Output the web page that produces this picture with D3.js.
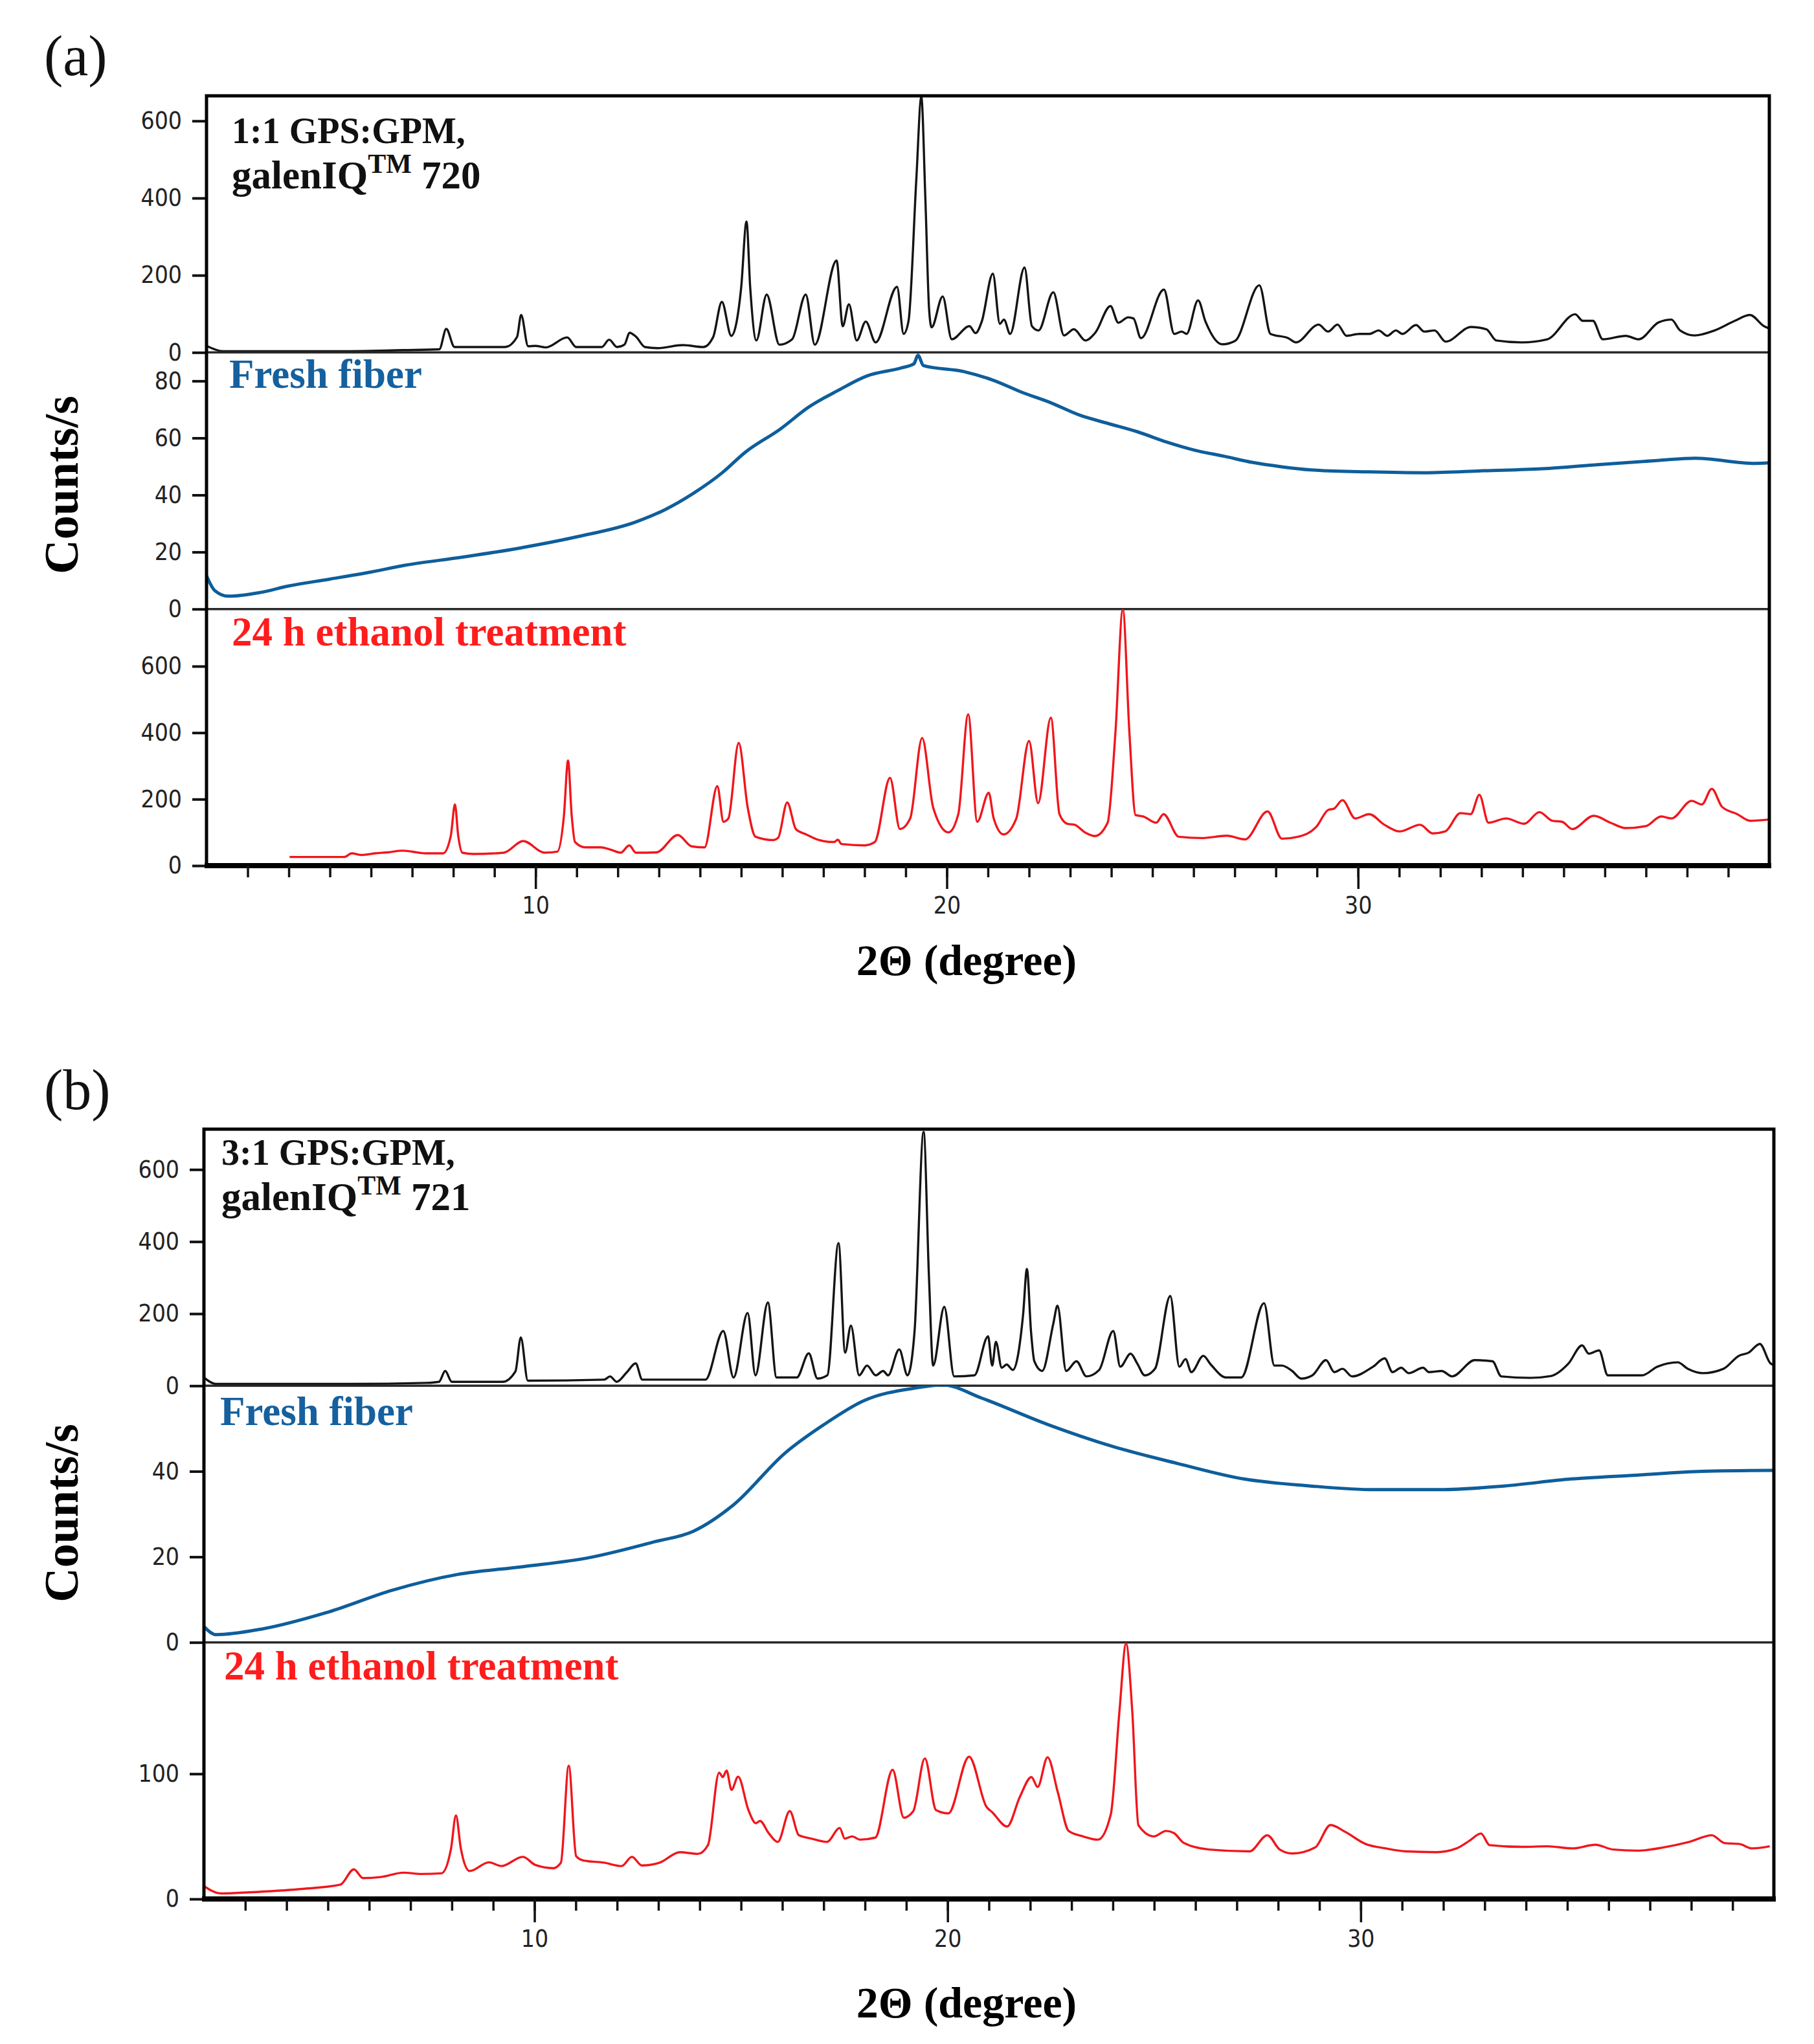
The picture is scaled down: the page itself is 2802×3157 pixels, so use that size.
<!DOCTYPE html>
<html>
<head>
<meta charset="utf-8">
<title>XRD patterns of GPS:GPM fibers</title>
<script src="https://cdn.jsdelivr.net/npm/d3@7/dist/d3.min.js"></script>
<style>
body{margin:0;background:#fff;}
.axis text{font-family:"Liberation Sans Narrow","DejaVu Sans Condensed","Roboto",sans-serif;font-stretch:condensed;fill:#222;}
.note{font-family:"Liberation Serif","DejaVu Serif",serif;font-weight:bold;}
</style>
</head>
<body>
<div id="chart"></div>
<script>
/* x range shared by all patterns (2 theta, degree) */
var xDomain = [2, 40];
var xMinorTicks = [3,4,5,6,7,8,9,10,11,12,13,14,15,16,17,18,19,20,21,22,23,24,25,26,27,28,29,30,31,32,33,34,35,36,37,38,39];
var xMajorTicks = [10, 20, 30];

/* (a) 1:1 GPS:GPM, galenIQ 720 - black */
var aRaw = [[2.0,17],[2.41,3],[5.19,3],[6.79,6],[7.66,8],[7.83,61],[8.03,14],[9.26,14],[9.55,40],[9.65,97],[9.82,16],[10.0,17],[10.25,13],
 [10.77,39],[10.99,14],[11.61,14],[11.79,33],[11.98,14],[12.16,20],[12.29,51],[12.45,40],[12.66,14],[12.97,11],[13.58,19],[14.08,14],
 [14.32,40],[14.53,131],[14.76,43],[15.0,168],[15.13,339],[15.22,168],[15.37,31],[15.62,150],[15.93,20],[16.24,34],[16.57,150],[16.79,20],
 [17.32,238],[17.47,68],[17.62,125],[17.81,31],[18.03,80],[18.27,26],[18.79,170],[18.95,48],[19.07,82],[19.26,451],[19.38,662],[19.48,395],
 [19.57,111],[19.63,65],[19.9,145],[20.12,34],[20.55,68],[20.7,50],[20.85,80],[21.12,204],[21.29,74],[21.39,85],[21.54,48],[21.89,220],
 [22.07,68],[22.23,57],[22.59,156],[22.85,44],[23.09,60],[23.37,31],[23.61,51],[23.98,120],[24.17,77],[24.41,91],[24.54,88],[24.72,37],
 [25.28,163],[25.53,48],[25.71,54],[25.83,48],[26.11,135],[26.29,80],[26.7,21],[27.01,30],[27.6,174],[27.87,48],[28.3,37],[28.49,26],
 [29.04,72],[29.27,54],[29.5,72],[29.72,43],[30.03,48],[30.28,48],[30.5,57],[30.71,43],[30.92,57],[31.08,48],[31.41,71],[31.61,54],
 [31.86,57],[32.13,28],[32.75,66],[33.12,60],[33.36,31],[33.98,26],[34.6,34],[35.28,99],[35.46,82],[35.71,82],[35.95,34],[36.51,43],
 [36.82,34],[37.31,78],[37.62,85],[37.83,57],[38.18,44],[38.67,57],[39.16,82],[39.53,97],[39.87,68],[40.0,62]];

/* (a) fresh fiber - blue */
var aFresh = [[2.0,11.7],[2.2,6.5],[2.53,4.5],[3.3,5.8],[4.0,8.1],[5.0,10.5],[6.0,13],[6.81,15.3],[8.22,18.2],[9.62,21.4],[11.03,25.4],
 [12.43,30.5],[13.14,34.8],[13.84,40.6],[14.54,47.8],[15.1,55],[15.94,63],[16.65,70.9],[17.36,76.7],[18.05,81.7],[18.9,84.6],[19.2,86],
 [19.3,89],[19.43,85.4],[20.41,83.3],[21.12,80.3],[21.83,76],[22.52,72.4],[23.23,68],[23.92,65.1],[24.63,62.2],[25.34,58.6],[26.03,55.7],
 [26.74,53.6],[27.44,51.4],[28.14,49.9],[28.85,48.8],[30.25,48.1],[31.66,47.8],[33.07,48.5],[34.47,49.2],[35.87,50.7],[37.28,52.1],
 [38.19,52.9],[39.65,51.1],[40.0,51.3]];

/* (a) 24 h ethanol treatment - red */
var aEthanol = [[4.02,26],[5.35,26],[5.53,37],[5.78,32],[6.09,37],[6.4,40],[6.77,45],[7.01,42],[7.32,37],[7.75,37],[7.94,90],[8.04,184],
 [8.12,90],[8.22,39],[8.49,35],[9.23,39],[9.7,74],[10.22,39],[10.53,42],[10.69,150],[10.79,316],[10.88,150],[10.96,71],[11.21,55],
 [11.58,55],[11.83,48],[12.07,39],[12.28,61],[12.44,39],[12.94,40],[13.46,92],[13.8,58],[14.11,55],[14.42,239],[14.57,132],[14.69,142],
 [14.94,369],[15.16,174],[15.35,87],[15.78,77],[15.9,84],[16.12,190],[16.33,110],[16.58,94],[16.89,77],[17.26,71],[17.35,78],[17.44,65],
 [18.0,61],[18.25,71],[18.62,264],[18.86,110],[19.11,142],[19.4,384],[19.67,174],[20.04,100],[20.28,155],[20.52,455],[20.74,132],
 [21.02,219],[21.14,142],[21.38,94],[21.69,142],[22.0,375],[22.22,188],[22.53,445],[22.74,155],[22.93,126],[23.11,123],[23.36,100],
 [23.6,89],[23.91,129],[24.1,400],[24.28,771],[24.44,400],[24.59,152],[24.78,148],[25.09,129],[25.27,155],[25.64,87],[26.2,83],[26.81,90],
 [27.25,79],[27.8,163],[28.15,81],[28.54,87],[28.98,116],[29.28,168],[29.41,171],[29.62,197],[29.93,142],[30.27,155],[30.64,123],
 [31.01,103],[31.51,123],[31.81,97],[32.12,103],[32.49,158],[32.74,155],[32.95,213],[33.17,129],[33.6,142],[34.04,126],[34.41,161],
 [34.72,135],[34.96,132],[35.21,110],[35.73,150],[36.14,129],[36.51,113],[37.0,119],[37.37,148],[37.62,142],[38.11,195],[38.36,184],
 [38.6,231],[38.85,177],[39.22,155],[39.53,135],[40.0,139]];

/* (b) 3:1 GPS:GPM, galenIQ 721 - black */
var bRaw = [[2.0,23],[2.29,5],[5.54,5],[7.39,8],[7.69,11],[7.84,41],[8.0,11],[9.23,11],[9.54,40],[9.67,134],[9.84,14],[11.69,17],[11.83,26],
 [11.99,11],[12.24,38],[12.45,62],[12.61,17],[14.14,17],[14.57,152],[14.82,23],[15.16,202],[15.35,29],[15.65,231],[15.86,23],[16.35,23],
 [16.64,90],[16.85,20],[17.09,29],[17.36,396],[17.52,92],[17.66,167],[17.86,29],[18.05,56],[18.26,29],[18.44,41],[18.56,29],[18.83,101],
 [19.03,29],[19.2,150],[19.42,704],[19.55,300],[19.65,56],[19.92,219],[20.16,26],[20.65,29],[20.98,137],[21.08,56],[21.17,122],[21.31,50],
 [21.43,59],[21.58,44],[21.83,200],[21.92,324],[22.02,150],[22.1,68],[22.29,41],[22.56,173],[22.66,222],[22.87,41],[23.12,68],[23.36,26],
 [23.67,44],[24.01,152],[24.18,53],[24.43,89],[24.59,62],[24.77,29],[25.02,47],[25.39,249],[25.61,53],[25.76,74],[25.9,38],[26.19,83],
 [26.37,59],[26.74,23],[27.11,23],[27.66,229],[27.91,56],[28.09,56],[28.34,41],[28.56,20],[28.83,29],[29.16,71],[29.36,38],[29.56,47],
 [29.79,26],[30.3,53],[30.58,76],[30.77,38],[30.98,50],[31.16,35],[31.51,50],[31.65,38],[31.96,41],[32.21,26],[32.76,71],[33.19,68],
 [33.4,26],[34.11,22],[34.6,27],[35.03,62],[35.36,112],[35.52,89],[35.77,98],[35.98,29],[36.81,29],[37.18,53],[37.67,65],[37.92,47],
 [38.29,35],[38.78,47],[39.15,83],[39.39,92],[39.66,116],[39.92,62],[40.0,58]];

/* (b) fresh fiber - blue */
var bFresh = [[2.0,3.7],[2.29,1.8],[3.39,3.1],[4.98,7],[6.56,12.2],[8.15,15.9],[9.73,17.7],[11.32,19.8],[12.9,23.5],[13.85,26],[14.8,32],
 [16.07,44.3],[17.02,51],[17.97,56.5],[19.24,59.5],[19.88,60.2],[20.83,57.1],[22.41,51],[24.0,45.8],[25.58,41.8],[27.17,38.2],
 [28.75,36.6],[30.34,35.7],[31.92,35.7],[33.5,36.6],[35.09,38.2],[36.67,39.1],[38.26,40],[40.0,40.2]];

/* (b) 24 h ethanol treatment - red */
var bEthanol = [[1.99,10.5],[2.42,4.4],[3.09,5.3],[4.32,7.9],[5.3,11.4],[5.63,23.7],[5.85,16.7],[6.28,17.5],[6.83,21],[7.26,20],[7.75,20.5],
 [7.98,40],[8.1,66.7],[8.22,40],[8.43,22.3],[8.9,29.3],[9.2,26.3],[9.72,33.7],[10.02,27.2],[10.45,24.6],[10.64,29],[10.83,106.5],
 [11.01,34.2],[11.19,30.7],[11.68,29],[12.11,26.3],[12.36,33.7],[12.6,26.8],[13.03,29],[13.52,37.4],[13.95,36],[14.2,43],[14.47,100.9],
 [14.56,97.4],[14.65,102.6],[14.77,87.2],[14.93,97.7],[15.18,71],[15.36,60.5],[15.46,62.3],[15.67,52.6],[15.89,45.6],[16.18,70.2],
 [16.4,50.9],[16.71,48.2],[17.08,45.6],[17.39,56.7],[17.51,48.2],[17.69,50],[17.88,47.4],[18.25,49],[18.67,103.2],[18.94,64.9],
 [19.17,70.2],[19.45,112.3],[19.72,71],[20.02,68.4],[20.52,113.7],[20.94,73.7],[21.08,69.3],[21.44,57.9],[21.75,81.6],[22.03,97.4],
 [22.18,89.5],[22.42,113.2],[22.67,85],[22.93,54.4],[23.28,50],[23.64,47.4],[23.95,67.5],[24.16,150],[24.32,204],[24.47,150],[24.62,58.8],
 [24.99,50],[25.29,54.4],[25.48,52.6],[25.72,44.7],[26.33,39.5],[27.31,38],[27.74,50.9],[28.04,39.5],[28.35,36.3],[28.9,41.2],[29.27,59.1],
 [29.63,53.5],[30.12,43.9],[30.61,40.4],[31.1,38],[31.83,37.4],[32.32,40.4],[32.63,46.5],[32.91,52.3],[33.12,43],[33.91,41.6],[34.52,42.1],
 [35.13,40.4],[35.68,43.3],[36.11,39.5],[36.72,38.6],[37.33,41.2],[37.95,45.6],[38.5,50.9],[38.8,44.7],[39.17,43.9],[39.47,40.4],[39.9,42.1]];

/* y-axis upper limits and ticks for each sub panel (top, middle, bottom) */
var aYMax = [665, 90, 772];
var bYMax = [712, 60, 205];
var aYTicks = [[0,200,400,600],[0,20,40,60,80],[0,200,400,600]];
var bYTicks = [[0,200,400,600],[0,20,40],[0,100]];

var colors = ["#141414", "#0e5e9b", "#f0161c"];
var noteColors = ["#111", "#15609e", "#ff1c1c"];

var W = 2802, H = 3157;
var svg = d3.select("#chart").append("svg").attr("width", W).attr("height", H)
	.style("background", "#fff");

var panels = [
	{tag:"(a)", left:319, right:2733, top:148, bottom:1337, tagY:116, series:[aRaw,aFresh,aEthanol], yMax:aYMax, yTicks:aYTicks,
	 name:["1:1 GPS:GPM,", "720"], noteX:[358,354,358], noteY:[221,291,599,997], xLabelY:1506, countsY:749},
	{tag:"(b)", left:315, right:2740, top:1744, bottom:2933, tagY:1713, series:[bRaw,bFresh,bEthanol], yMax:bYMax, yTicks:bYTicks,
	 name:["3:1 GPS:GPM,", "721"], noteX:[342,340,346], noteY:[1799,1869,2201,2594], xLabelY:3116, countsY:2337}
];

panels.forEach(function(p, pi){ drawPanel(p, pi); });

function drawPanel(p, pi){
	var g = svg.append("g");
	var x = d3.scaleLinear().domain(xDomain).range([p.left, p.right]);
	var h = (p.bottom - p.top) / 3;
	for(var i = 0; i < 3; i++){
		var y0 = p.top + i*h, y1 = y0 + h;
		var y = d3.scaleLinear().domain([0, p.yMax[i]]).range([y1, y0]);
		var cid = "clip" + pi + "_" + i;
		svg.append("clipPath").attr("id", cid).append("rect")
			.attr("x", p.left).attr("y", y0).attr("width", p.right - p.left).attr("height", h);
		var line = d3.line().curve(d3.curveMonotoneX)
			.x(function(d){ return x(d[0]); }).y(function(d){ return y(d[1]); });
		g.append("path").attr("d", line(p.series[i])).attr("clip-path", "url(#" + cid + ")")
			.attr("fill", "none").attr("stroke", colors[i])
			.attr("stroke-width", i == 1 ? 5 : 3.4).attr("stroke-linejoin", "round");
		/* y axis of the sub panel */
		var ax = g.append("g").attr("class", "axis").attr("transform", "translate(" + p.left + ",0)")
			.call(d3.axisLeft(y).tickValues(p.yTicks[i]).tickSize(22).tickPadding(16).tickFormat(d3.format("d")));
		ax.select(".domain").remove();
		ax.selectAll(".tick line").attr("stroke", "#111").attr("stroke-width", 4);
		ax.selectAll(".tick text").attr("font-size", 37);
		if(i < 2){
			g.append("line").attr("x1", p.left).attr("x2", p.right).attr("y1", y1).attr("y2", y1)
				.attr("stroke", "#2a2a2a").attr("stroke-width", 3.5);
		}
	}
	/* frame */
	g.append("rect").attr("x", p.left).attr("y", p.top).attr("width", p.right - p.left).attr("height", p.bottom - p.top)
		.attr("fill", "none").attr("stroke", "#000").attr("stroke-width", 5);
	g.append("line").attr("x1", p.left - 3).attr("x2", p.right + 3).attr("y1", p.bottom).attr("y2", p.bottom)
		.attr("stroke", "#000").attr("stroke-width", 8);

	/* x axis: minor and major ticks */
	var xm = g.append("g").attr("class", "axis").attr("transform", "translate(0," + p.bottom + ")")
		.call(d3.axisBottom(x).tickValues(xMinorTicks).tickSize(18).tickFormat(""));
	xm.select(".domain").remove();
	xm.selectAll(".tick line").attr("stroke", "#111").attr("stroke-width", 3.5);
	var xa = g.append("g").attr("class", "axis").attr("transform", "translate(0," + p.bottom + ")")
		.call(d3.axisBottom(x).tickValues(xMajorTicks).tickSize(36).tickPadding(12).tickFormat(d3.format("d")));
	xa.select(".domain").remove();
	xa.selectAll(".tick line").attr("stroke", "#111").attr("stroke-width", 3.5);
	xa.selectAll(".tick text").attr("font-size", 37);

	/* panel letter and axis titles */
	svg.append("text").attr("x", 68).attr("y", p.tagY).attr("font-family", "Liberation Serif, serif")
		.attr("font-size", 88).attr("fill", "#111").text(p.tag);
	svg.append("text").attr("class", "note").attr("transform", "translate(120," + p.countsY + ") rotate(-90)")
		.attr("text-anchor", "middle").attr("font-size", 74).attr("fill", "#000").text("Counts/s");
	svg.append("text").attr("class", "note").attr("x", 1493).attr("y", p.xLabelY)
		.attr("text-anchor", "middle").attr("font-size", 68).attr("fill", "#000").text("2\u0398 (degree)");

	/* sample labels */
	svg.append("text").attr("class", "note").attr("x", p.noteX[0]).attr("y", p.noteY[0])
		.attr("font-size", 56).attr("fill", noteColors[0]).text(p.name[0]);
	var t2 = svg.append("text").attr("class", "note").attr("x", p.noteX[0]).attr("y", p.noteY[1])
		.attr("font-size", 61).attr("fill", noteColors[0]);
	t2.append("tspan").text("galenIQ");
	t2.append("tspan").attr("dy", -24).attr("font-size", 42).text("TM");
	t2.append("tspan").attr("dy", 24).text(" " + p.name[1]);
	svg.append("text").attr("class", "note").attr("x", p.noteX[1]).attr("y", p.noteY[2])
		.attr("font-size", 63).attr("fill", noteColors[1]).text("Fresh fiber");
	svg.append("text").attr("class", "note").attr("x", p.noteX[2]).attr("y", p.noteY[3])
		.attr("font-size", 63).attr("fill", noteColors[2]).text("24 h ethanol treatment");
}
</script>
</body>
</html>
